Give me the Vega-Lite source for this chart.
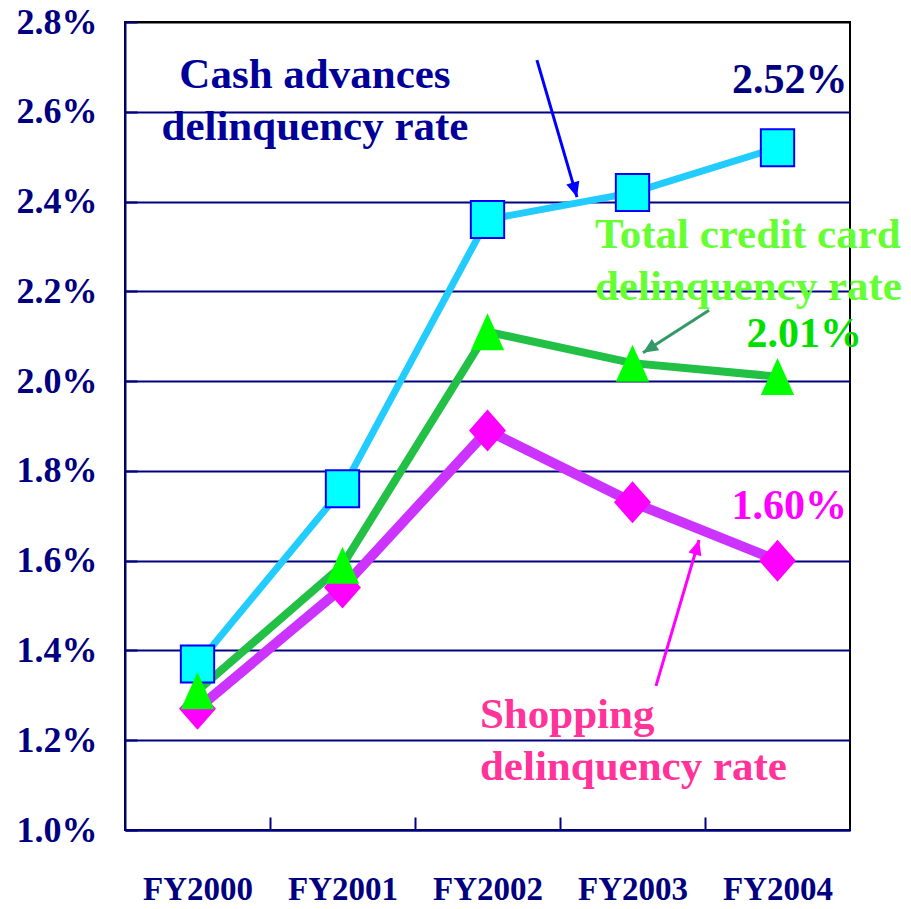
{
  "$schema": "https://vega.github.io/schema/vega-lite/v6.json",
  "width": 725,
  "height": 808,
  "autosize": "none",
  "padding": {"left": 125, "top": 22, "right": 61, "bottom": 79},
  "background": "white",
  "config": {
    "view": {"stroke": "black", "strokeWidth": 2},
    "font": "Liberation Serif"
  },
  "datasets": {
    "rates": [
      {"series": "Cash", "year": "FY2000", "i": 0, "v": 0.0137},
      {"series": "Cash", "year": "FY2001", "i": 1, "v": 0.0176},
      {"series": "Cash", "year": "FY2002", "i": 2, "v": 0.0236},
      {"series": "Cash", "year": "FY2003", "i": 3, "v": 0.0242},
      {"series": "Cash", "year": "FY2004", "i": 4, "v": 0.0252},
      {"series": "Total", "year": "FY2000", "i": 0, "v": 0.0131},
      {"series": "Total", "year": "FY2001", "i": 1, "v": 0.0159},
      {"series": "Total", "year": "FY2002", "i": 2, "v": 0.0211},
      {"series": "Total", "year": "FY2003", "i": 3, "v": 0.0204},
      {"series": "Total", "year": "FY2004", "i": 4, "v": 0.0201},
      {"series": "Shopping", "year": "FY2000", "i": 0, "v": 0.0127},
      {"series": "Shopping", "year": "FY2001", "i": 1, "v": 0.0154},
      {"series": "Shopping", "year": "FY2002", "i": 2, "v": 0.0189},
      {"series": "Shopping", "year": "FY2003", "i": 3, "v": 0.0173},
      {"series": "Shopping", "year": "FY2004", "i": 4, "v": 0.0160}
    ]
  },
  "layer": [
    {
      "data": {"name": "rates"},
      "transform": [{"filter": "datum.series === 'Cash'"}],
      "mark": {"type": "line", "color": "#22CCFF", "strokeWidth": 7},
      "encoding": {
        "x": {
          "field": "i", "type": "quantitative", "title": null,
          "scale": {"domain": [-0.5, 4.5], "nice": false, "zero": false},
          "axis": {
            "values": [0, 0.5, 1, 1.5, 2, 2.5, 3, 3.5, 4],
            "labelExpr": "datum.value % 1 === 0 ? ['FY2000','FY2001','FY2002','FY2003','FY2004'][datum.value] : ''",
            "grid": false,
            "domainColor": "#000080", "domainWidth": 2,
            "tickColor": "#000080", "tickWidth": 2, "tickSize": -13,
            "tickOpacity": {"condition": {"test": "datum.value % 1 !== 0", "value": 1}, "value": 0},
            "labelFont": "Liberation Serif", "labelFontWeight": "bold", "labelFontSize": 33,
            "labelColor": "#000080", "labelBaseline": "alphabetic", "labelPadding": 82,
            "labelFlush": false, "labelOverlap": false
          }
        },
        "y": {
          "field": "v", "type": "quantitative", "title": null,
          "scale": {"domain": [0.01, 0.028], "nice": false, "zero": false},
          "axis": {
            "values": [0.01, 0.012, 0.014, 0.016, 0.018, 0.02, 0.022, 0.024, 0.026, 0.028],
            "format": ".1%",
            "grid": true, "gridColor": {"condition": {"test": "datum.value > 0.0279", "value": "black"}, "value": "#000080"},
            "gridWidth": 2,
            "domainColor": "#000080", "domainWidth": 2,
            "tickColor": "#000080", "tickWidth": 2, "tickSize": -12,
            "labelFont": "Liberation Serif", "labelFontWeight": "bold", "labelFontSize": 36,
            "labelColor": "#000080", "labelPadding": 40, "labelFlush": false, "labelOverlap": false
          }
        }
      }
    },
    {
      "data": {"name": "rates"},
      "transform": [{"filter": "datum.series === 'Shopping'"}],
      "mark": {"type": "line", "color": "#CC33FF", "strokeWidth": 10},
      "encoding": {
        "x": {"field": "i", "type": "quantitative", "title": null},
        "y": {"field": "v", "type": "quantitative", "title": null}
      }
    },
    {
      "data": {"name": "rates"},
      "transform": [{"filter": "datum.series === 'Total'"}],
      "mark": {"type": "line", "color": "#22C044", "strokeWidth": 8},
      "encoding": {
        "x": {"field": "i", "type": "quantitative", "title": null},
        "y": {"field": "v", "type": "quantitative", "title": null}
      }
    },
    {
      "data": {"name": "rates"},
      "transform": [{"filter": "datum.series === 'Cash'"}],
      "mark": {"type": "point", "shape": "M-0.9,-1L0.9,-1L0.9,1L-0.9,1Z", "size": 1369, "filled": true, "fill": "#00FFFF", "stroke": "#0000FF", "strokeWidth": 2, "opacity": 1},
      "encoding": {
        "x": {"field": "i", "type": "quantitative", "title": null},
        "y": {"field": "v", "type": "quantitative", "title": null}
      }
    },
    {
      "data": {"name": "rates"},
      "transform": [{"filter": "datum.series === 'Shopping'"}],
      "mark": {"type": "point", "shape": "M0,-1L-0.88,0L0,1L0.88,0Z", "size": 1764, "filled": true, "fill": "#FF00FF", "strokeWidth": 0, "opacity": 1},
      "encoding": {
        "x": {"field": "i", "type": "quantitative", "title": null},
        "y": {"field": "v", "type": "quantitative", "title": null}
      }
    },
    {
      "data": {"name": "rates"},
      "transform": [{"filter": "datum.series === 'Total'"}],
      "mark": {"type": "point", "shape": "M0,-1L-0.9,1L0.9,1Z", "size": 1369, "filled": true, "fill": "#00FF00", "strokeWidth": 0, "opacity": 1},
      "encoding": {
        "x": {"field": "i", "type": "quantitative", "title": null},
        "y": {"field": "v", "type": "quantitative", "title": null}
      }
    },
    {
      "data": {"values": [{"i": 2.341, "v": 0.02715, "i2": 2.617, "v2": 0.0241}]},
      "mark": {"type": "rule", "color": "#0000FF", "strokeWidth": 3},
      "encoding": {
        "x": {"field": "i", "type": "quantitative", "title": null},
        "y": {"field": "v", "type": "quantitative", "title": null},
        "x2": {"field": "i2"},
        "y2": {"field": "v2"}
      }
    },
    {
      "data": {"values": [{"i": 2.617, "v": 0.0241}]},
      "mark": {"type": "point", "shape": "M0,0L-0.45,1L0.45,1Z", "size": 900, "angle": 164, "filled": true, "fill": "#0000FF", "strokeWidth": 0, "opacity": 1},
      "encoding": {
        "x": {"field": "i", "type": "quantitative", "title": null},
        "y": {"field": "v", "type": "quantitative", "title": null}
      }
    },
    {
      "data": {"values": [{"i": 3.528, "v": 0.02158, "i2": 3.072, "v2": 0.02063}]},
      "mark": {"type": "rule", "color": "#339966", "strokeWidth": 3},
      "encoding": {
        "x": {"field": "i", "type": "quantitative", "title": null},
        "y": {"field": "v", "type": "quantitative", "title": null},
        "x2": {"field": "i2"},
        "y2": {"field": "v2"}
      }
    },
    {
      "data": {"values": [{"i": 3.072, "v": 0.02063}]},
      "mark": {"type": "point", "shape": "M0,0L-0.45,1L0.45,1Z", "size": 900, "angle": 237, "filled": true, "fill": "#339966", "strokeWidth": 0, "opacity": 1},
      "encoding": {
        "x": {"field": "i", "type": "quantitative", "title": null},
        "y": {"field": "v", "type": "quantitative", "title": null}
      }
    },
    {
      "data": {"values": [{"i": 3.162, "v": 0.01321, "i2": 3.459, "v2": 0.01646}]},
      "mark": {"type": "rule", "color": "#FF00FF", "strokeWidth": 3},
      "encoding": {
        "x": {"field": "i", "type": "quantitative", "title": null},
        "y": {"field": "v", "type": "quantitative", "title": null},
        "x2": {"field": "i2"},
        "y2": {"field": "v2"}
      }
    },
    {
      "data": {"values": [{"i": 3.459, "v": 0.01646}]},
      "mark": {"type": "point", "shape": "M0,0L-0.45,1L0.45,1Z", "size": 900, "angle": 16, "filled": true, "fill": "#FF00FF", "strokeWidth": 0, "opacity": 1},
      "encoding": {
        "x": {"field": "i", "type": "quantitative", "title": null},
        "y": {"field": "v", "type": "quantitative", "title": null}
      }
    },
    {
      "data": {"values": [{"i": 0.81, "v": 0.02653, "label": "Cash advances\ndelinquency rate"}]},
      "mark": {"type": "text", "lineBreak": "\n", "align": "center", "baseline": "alphabetic", "font": "Liberation Serif", "fontWeight": "bold", "fontSize": 43, "lineHeight": 52, "color": "#000099"},
      "encoding": {
        "x": {"field": "i", "type": "quantitative", "title": null},
        "y": {"field": "v", "type": "quantitative", "title": null},
        "text": {"field": "label"}
      }
    },
    {
      "data": {"values": [{"i": 2.741, "v": 0.02297, "label": "Total credit card\ndelinquency rate"}]},
      "mark": {"type": "text", "lineBreak": "\n", "align": "left", "baseline": "alphabetic", "font": "Liberation Serif", "fontWeight": "bold", "fontSize": 43, "lineHeight": 52, "color": "#66FF33"},
      "encoding": {
        "x": {"field": "i", "type": "quantitative", "title": null},
        "y": {"field": "v", "type": "quantitative", "title": null},
        "text": {"field": "label"}
      }
    },
    {
      "data": {"values": [{"i": 1.948, "v": 0.01227, "label": "Shopping\ndelinquency rate"}]},
      "mark": {"type": "text", "lineBreak": "\n", "align": "left", "baseline": "alphabetic", "font": "Liberation Serif", "fontWeight": "bold", "fontSize": 43, "lineHeight": 52, "color": "#FF3399"},
      "encoding": {
        "x": {"field": "i", "type": "quantitative", "title": null},
        "y": {"field": "v", "type": "quantitative", "title": null},
        "text": {"field": "label"}
      }
    },
    {
      "data": {"name": "rates"},
      "transform": [{"filter": "datum.series === 'Cash' && datum.i === 4"}],
      "mark": {"type": "text", "align": "right", "baseline": "alphabetic", "dx": 70, "dy": -55, "font": "Liberation Serif", "fontWeight": "bold", "fontSize": 42, "color": "#000080"},
      "encoding": {
        "x": {"field": "i", "type": "quantitative", "title": null},
        "y": {"field": "v", "type": "quantitative", "title": null},
        "text": {"field": "v", "type": "quantitative", "format": ".2%"}
      }
    },
    {
      "data": {"name": "rates"},
      "transform": [{"filter": "datum.series === 'Total' && datum.i === 4"}],
      "mark": {"type": "text", "align": "left", "baseline": "alphabetic", "dx": -31, "dy": -30, "font": "Liberation Serif", "fontWeight": "bold", "fontSize": 42, "color": "#00E000"},
      "encoding": {
        "x": {"field": "i", "type": "quantitative", "title": null},
        "y": {"field": "v", "type": "quantitative", "title": null},
        "text": {"field": "v", "type": "quantitative", "format": ".2%"}
      }
    },
    {
      "data": {"name": "rates"},
      "transform": [{"filter": "datum.series === 'Shopping' && datum.i === 4"}],
      "mark": {"type": "text", "align": "left", "baseline": "alphabetic", "dx": -46, "dy": -42, "font": "Liberation Serif", "fontWeight": "bold", "fontSize": 42, "color": "#FF00FF"},
      "encoding": {
        "x": {"field": "i", "type": "quantitative", "title": null},
        "y": {"field": "v", "type": "quantitative", "title": null},
        "text": {"field": "v", "type": "quantitative", "format": ".2%"}
      }
    }
  ]
}
